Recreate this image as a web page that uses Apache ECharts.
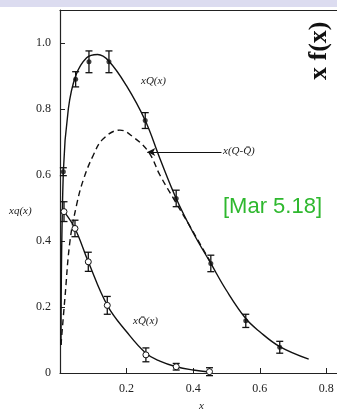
<!DOCTYPE html>
<html><head><meta charset="utf-8">
<script src="https://cdn.jsdelivr.net/npm/echarts@6/dist/echarts.min.js"></script>
<style>html,body{margin:0;padding:0;background:#fff}#c{width:337px;height:411px}</style>
</head><body><div id="c"></div>
<script>
// xQ(x) data points (filled) and error bars
var qX   = [0.010, 0.047, 0.087, 0.147, 0.256, 0.349, 0.453, 0.558, 0.660];
var qY   = [0.610, 0.890, 0.943, 0.943, 0.765, 0.529, 0.332, 0.158, 0.078];
var qErr = [0.012, 0.023, 0.033, 0.033, 0.024, 0.025, 0.025, 0.020, 0.018];
// xQbar(x) data points (open) and error bars
var qbX   = [0.012, 0.045, 0.085, 0.142, 0.258, 0.349, 0.449];
var qbY   = [0.489, 0.438, 0.337, 0.205, 0.055, 0.019, 0.004];
var qbErr = [0.030, 0.025, 0.029, 0.027, 0.021, 0.010, 0.012];
// fitted curves
var qCurveX = [0.003, 0.010, 0.025, 0.047, 0.080, 0.113, 0.147, 0.200, 0.256, 0.300, 0.349, 0.400, 0.453, 0.500, 0.558, 0.600, 0.660, 0.747];
var qCurveY = [0.085, 0.610, 0.800, 0.900, 0.955, 0.965, 0.945, 0.870, 0.765, 0.650, 0.529, 0.425, 0.332, 0.250, 0.165, 0.125, 0.080, 0.042];
var qbCurveX = [0.012, 0.045, 0.085, 0.142, 0.200, 0.258, 0.300, 0.349, 0.400, 0.449];
var qbCurveY = [0.489, 0.438, 0.337, 0.205, 0.125, 0.060, 0.036, 0.019, 0.009, 0.003];
var dCurveX = [0.003, 0.015, 0.030, 0.050, 0.070, 0.100, 0.130, 0.180, 0.220, 0.266, 0.300, 0.346, 0.390, 0.430, 0.450];
var dCurveY = [0.085, 0.230, 0.400, 0.510, 0.585, 0.660, 0.710, 0.736, 0.715, 0.670, 0.600, 0.520, 0.445, 0.375, 0.340];
var xTicks = [0.2, 0.4, 0.6, 0.8];
var yTicks = [0, 0.2, 0.4, 0.6, 0.8, 1.0];

function pairs(xs, ys){ return xs.map(function(x,i){ return [x, ys[i]]; }); }
function errData(xs, ys, es){ return xs.map(function(x,i){ return [x, ys[i]-es[i], ys[i]+es[i]]; }); }
function errRender(params, api){
  var lo = api.coord([api.value(0), api.value(1)]);
  var hi = api.coord([api.value(0), api.value(2)]);
  var w = 3.5;
  var st = {stroke:'#111', lineWidth:1.3};
  return {type:'group', children:[
    {type:'line', shape:{x1:lo[0],y1:lo[1],x2:hi[0],y2:hi[1]}, style:st},
    {type:'line', shape:{x1:lo[0]-w,y1:lo[1],x2:lo[0]+w,y2:lo[1]}, style:st},
    {type:'line', shape:{x1:hi[0]-w,y1:hi[1],x2:hi[0]+w,y2:hi[1]}, style:st}
  ]};
}
var serif = "'Liberation Serif','DejaVu Serif',serif";
var chart = echarts.init(document.getElementById('c'));
chart.setOption({
  animation:false,
  grid:{left:60, top:10, right:-6, bottom:38, containLabel:false, outerBoundsMode:'none'},
  xAxis:[{type:'value', min:0, max:0.85, interval:0.2,
    axisLine:{lineStyle:{color:'#222', width:1.2}},
    axisTick:{inside:true, length:5, lineStyle:{color:'#222'}},
    splitLine:{show:false},
    axisLabel:{showMinLabel:false, showMaxLabel:false, fontFamily:serif, fontSize:12, color:'#222', margin:10,
      formatter:function(v){ return xTicks.indexOf(Math.round(v*10)/10) >= 0 ? v.toFixed(1) : ''; }},
    name:'x', nameLocation:'middle', nameGap:28, nameTextStyle:{fontFamily:serif, fontStyle:'italic', fontSize:11, color:'#222'}
  },{type:'value', position:'top', min:0, max:0.85,
    axisLine:{show:true, lineStyle:{color:'#222', width:1.2}},
    axisTick:{show:false}, axisLabel:{show:false}, splitLine:{show:false}
  }],
  yAxis:{type:'value', min:0, max:1.1, interval:0.2,
    axisLine:{lineStyle:{color:'#222', width:1.2}},
    axisTick:{inside:true, length:5, lineStyle:{color:'#222'}},
    splitLine:{show:false},
    axisLabel:{showMaxLabel:false, fontFamily:serif, fontSize:12, color:'#222', margin:9,
      formatter:function(v){ var r=Math.round(v*10)/10; if(yTicks.indexOf(r)<0) return ''; return r===0?'0':r.toFixed(1); }}
  },
  graphic:[
    {type:'rect', shape:{x:0,y:0,width:337,height:7}, style:{fill:'#dcdcf0'}, z:100},
    {type:'text', left:141, top:76, style:{text:'xQ(x)', font:'italic 11px '+serif, fill:'#222'}},
    {type:'text', left:223, top:146, style:{text:'x(Q-Q\u0304)', font:'italic 11px '+serif, fill:'#222'}},
    {type:'text', left:9, top:206, style:{text:'xq(x)', font:'italic 11px '+serif, fill:'#222'}},
    {type:'text', left:133, top:316, style:{text:'xQ\u0304(x)', font:'italic 11px '+serif, fill:'#222'}},
    {type:'text', left:223, top:196, style:{text:'[Mar 5.18]', font:'22px "Liberation Sans", Arial, sans-serif', fill:'#2eb82e'}},
    {type:'text', x:332, y:80, rotation:Math.PI/2, style:{text:'x f(x)', font:'bold 26px '+serif, fill:'#111', verticalAlign:'bottom', align:'left'}}
  ],
  series:[
    {type:'line', data:pairs(qCurveX, qCurveY), smooth:0.4, showSymbol:false, lineStyle:{color:'#111', width:1.4}, z:2,
     markLine:{silent:true, symbol:['none','arrow'], symbolSize:[6,8], label:{show:false},
       lineStyle:{color:'#111', width:1.1, type:'solid'},
       data:[[{coord:[0.485,0.67]},{coord:[0.262,0.67]}]]}},
    {type:'line', data:pairs(dCurveX, dCurveY), smooth:0.4, showSymbol:false, lineStyle:{color:'#111', width:1.4, type:[6,4]}, z:2},
    {type:'line', data:pairs(qbCurveX, qbCurveY), smooth:0.4, showSymbol:false, lineStyle:{color:'#111', width:1.4}, z:2},
    {type:'custom', data:errData(qX, qY, qErr), renderItem:errRender, z:3},
    {type:'custom', data:errData(qbX, qbY, qbErr), renderItem:errRender, z:3},
    {type:'scatter', data:pairs(qX, qY), symbol:'circle', symbolSize:5, itemStyle:{color:'#111'}, z:4},
    {type:'scatter', data:pairs(qbX, qbY), symbol:'circle', symbolSize:6, itemStyle:{color:'#fff', borderColor:'#111', borderWidth:1, opacity:1}, z:4}
  ]
});
</script></body></html>
